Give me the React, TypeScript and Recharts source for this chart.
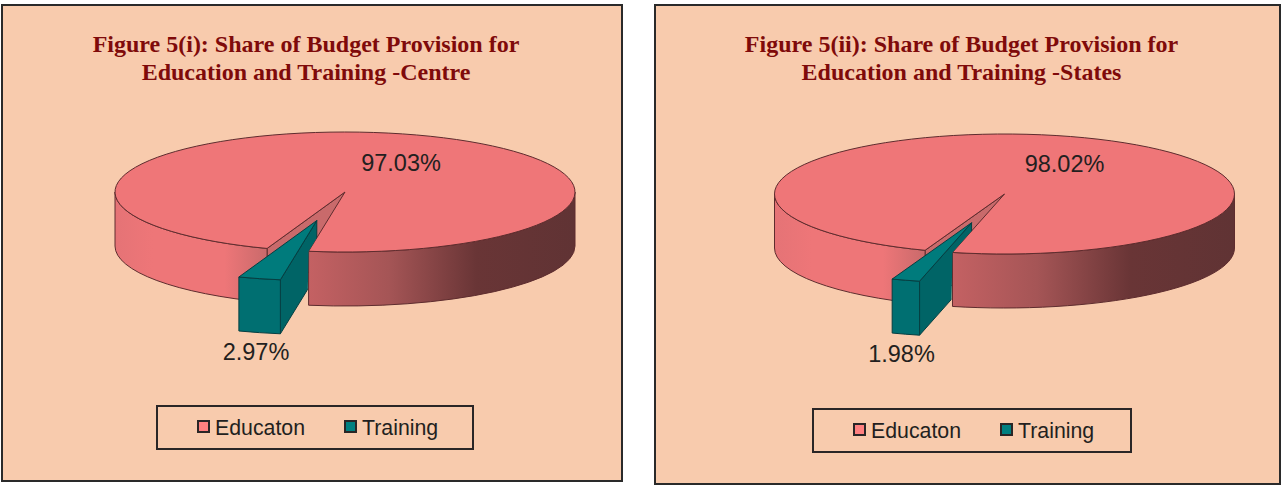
import React from "react";
import { PieChart, Pie, Legend } from "recharts";

const categories = ["Educaton", "Training"];
const centreShares = [97.03, 2.97];
const stateShares = [98.02, 1.98];

const swatchColors = ["#ff8080", "#008080"];
const DEPTH = 54;
const SQUASH = 60 / 230;
const FONT = "'Liberation Sans', Arial, sans-serif";

const panels = [
  {
    id: "centre",
    left: 0,
    shares: centreShares,
    titleLines: ["Figure 5(i): Share of Budget Provision for", "Education and Training -Centre"],
    titleCenter: 306,
    box: { x: 1, y: 4, w: 622, h: 478 },
    cx: 345,
    cy: 192,
    startAngle: -109.8,
    explode: 113,
    labelOffsets: [[56, -29], [-89, 160]],
    legendTop: 405,
    legendLeft: 156,
    legendWidth: 318,
  },
  {
    id: "states",
    left: 641,
    shares: stateShares,
    titleLines: ["Figure 5(ii): Share of Budget Provision for", "Education and Training -States"],
    titleCenter: 320.5,
    box: { x: 13, y: 4, w: 627, h: 481 },
    cx: 363.5,
    cy: 194,
    startAngle: -110.2,
    explode: 115,
    labelOffsets: [[60, -30], [-103, 160]],
    legendTop: 408,
    legendLeft: 171,
    legendWidth: 320,
  },
];

const rad = (a: number) => (a * Math.PI) / 180;

// flatten a circle point into the tilted disc
const rim = (cx: number, cy: number, r: number, a: number) => ({
  x: cx + r * Math.cos(rad(a)),
  y: cy - r * Math.sin(rad(a)) * SQUASH,
});

// parts of [end, start] lying on the front half of the disc
function frontArcs(start: number, end: number) {
  const arcs: [number, number][] = [];
  for (let k = -3; k <= 1; k++) {
    const hi = Math.min(start, 360 * k);
    const lo = Math.max(end, -180 + 360 * k);
    if (hi > lo) arcs.push([hi, lo]);
  }
  return arcs;
}

function makeSector(panelId: string, explode: number) {
  return function SectorShape(props: any) {
    const { cx, cy, outerRadius: r, startAngle, endAngle, index, midAngle } = props;
    const rx = r;
    const ry = r * SQUASH;
    const off = index === 1 ? explode : 0;
    const ox = cx + off * Math.cos(rad(midAngle));
    const oy = cy - off * Math.sin(rad(midAngle)) * SQUASH;
    const a = rim(ox, oy, r, startAngle);
    const b = rim(ox, oy, r, endAngle);
    const large = Math.abs(startAngle - endAngle) > 180 ? 1 : 0;
    const isTeal = index === 1;
    const edge = isTeal ? "#063f42" : "#5e2c2e";

    // the piece slid out sits behind the cut edge of the big slice
    const cut = rim(cx, cy, r, startAngle);
    const clipId = `cut-${panelId}`;
    const clipPts = [
      [cx, cy - 100],
      [cx, cy],
      [cut.x, cut.y],
      [cut.x - 4, cut.y + 200],
      [cx - 300, cy + 200],
      [cx - 300, cy - 100],
    ]
      .map((p) => p.join(","))
      .join(" ");

    return (
      <g>
        {isTeal && (
          <defs>
            <clipPath id={clipId}>
              <polygon points={clipPts} />
            </clipPath>
          </defs>
        )}
        <path
          d={`M${ox},${oy} L${a.x},${a.y} L${a.x},${a.y + DEPTH} L${ox},${oy + DEPTH} Z`}
          fill={isTeal ? "#006466" : "#c96a6b"}
          stroke={edge}
          strokeWidth={1}
          clipPath={isTeal ? `url(#${clipId})` : undefined}
        />
        {frontArcs(startAngle, endAngle).map(([hi, lo]) => {
          const p = rim(ox, oy, r, hi);
          const q = rim(ox, oy, r, lo);
          const isRight = (p.x + q.x) / 2 > ox;
          const fill = isTeal ? "#006f71" : isRight ? `url(#wallRight-${panelId})` : `url(#wallLeft-${panelId})`;
          return (
            <path
              key={hi}
              d={`M${p.x},${p.y} A${rx},${ry} 0 0 1 ${q.x},${q.y} L${q.x},${q.y + DEPTH} A${rx},${ry} 0 0 0 ${p.x},${p.y + DEPTH} Z`}
              fill={fill}
              stroke={edge}
              strokeWidth={1}
            />
          );
        })}
        <path
          d={`M${ox},${oy} L${a.x},${a.y} A${rx},${ry} 0 ${large} 1 ${b.x},${b.y} Z`}
          fill={isTeal ? "#007b7c" : "#ef7678"}
          stroke={edge}
          strokeWidth={1}
        />
      </g>
    );
  };
}

function makeLabel(offsets: number[][]) {
  return function SliceLabel(props: any) {
    const { cx, cy, index, value } = props;
    return (
      <text
        x={cx + offsets[index][0]}
        y={cy + offsets[index][1]}
        textAnchor="middle"
        dominantBaseline="central"
        fontFamily={FONT}
        fontSize={23.5}
        fill="#231f20"
      >
        {value.toFixed(2)}%
      </text>
    );
  };
}

function LegendBox({ payload }: any) {
  const items = payload || [];
  return (
    <div
      style={{
        position: "relative",
        height: 45,
        boxSizing: "border-box",
        border: "2.5px solid #2a2626",
        fontFamily: FONT,
        fontSize: 21.3,
        color: "#231f20",
      }}
    >
      {items.map((entry: any, i: number) => (
        <React.Fragment key={entry.value}>
          <span
            style={{
              position: "absolute",
              left: 39 + i * 147,
              top: 13,
              width: 13,
              height: 13,
              boxSizing: "border-box",
              border: "2.5px solid #2a2626",
              background: swatchColors[i],
            }}
          />
          <span style={{ position: "absolute", left: 57 + i * 147, top: 9, lineHeight: "24px" }}>{entry.value}</span>
        </React.Fragment>
      ))}
    </div>
  );
}

function Panel({ panel }: { panel: (typeof panels)[number] }) {
  const data = categories.map((name, i) => ({ name, value: panel.shares[i] }));
  return (
    <div style={{ position: "absolute", left: panel.left, top: 0, width: 640, height: 485 }}>
      <div
        style={{
          position: "absolute",
          left: panel.box.x,
          top: panel.box.y,
          width: panel.box.w,
          height: panel.box.h,
          boxSizing: "border-box",
          background: "#f8cbad",
          border: "2px solid #2a2a2a",
        }}
      />
      <div
        style={{
          position: "absolute",
          left: panel.titleCenter - 300,
          top: 30,
          width: 600,
          textAlign: "center",
          fontFamily: "'Liberation Serif', 'Times New Roman', serif",
          fontWeight: 700,
          fontSize: 24,
          lineHeight: "28px",
          color: "#7f0a0a",
        }}
      >
        {panel.titleLines.map((line) => (
          <div key={line}>{line}</div>
        ))}
      </div>
      <div style={{ position: "absolute", left: 0, top: 0 }}>
        <PieChart width={640} height={485} margin={{ top: 0, right: 0, bottom: 0, left: 0 }}>
          <defs>
            <linearGradient id={`wallLeft-${panel.id}`} x1="0" y1="0" x2="1" y2="0">
              <stop offset="0%" stopColor="#e57376" />
              <stop offset="25%" stopColor="#ee7678" />
              <stop offset="72%" stopColor="#ee7678" />
              <stop offset="100%" stopColor="#c96a6b" />
            </linearGradient>
            <linearGradient id={`wallRight-${panel.id}`} x1="0" y1="0" x2="1" y2="0">
              <stop offset="0%" stopColor="#c46163" />
              <stop offset="30%" stopColor="#a55556" />
              <stop offset="63%" stopColor="#693536" />
              <stop offset="100%" stopColor="#603334" />
            </linearGradient>
          </defs>
          <Pie
            data={data}
            dataKey="value"
            nameKey="name"
            cx={panel.cx}
            cy={panel.cy}
            outerRadius={230}
            startAngle={panel.startAngle}
            endAngle={panel.startAngle - 360}
            stroke="none"
            isAnimationActive={false}
            shape={makeSector(panel.id, panel.explode)}
            label={makeLabel(panel.labelOffsets)}
            labelLine={false}
          />
          <Legend
            content={<LegendBox />}
            wrapperStyle={{
              left: panel.legendLeft,
              top: panel.legendTop,
              bottom: "auto",
              width: panel.legendWidth,
            }}
          />
        </PieChart>
      </div>
    </div>
  );
}

export default function App() {
  return (
    <div style={{ position: "fixed", left: 0, top: 0, width: 1281, height: 485, background: "#fff" }}>
      {panels.map((panel) => (
        <Panel key={panel.id} panel={panel} />
      ))}
    </div>
  );
}
